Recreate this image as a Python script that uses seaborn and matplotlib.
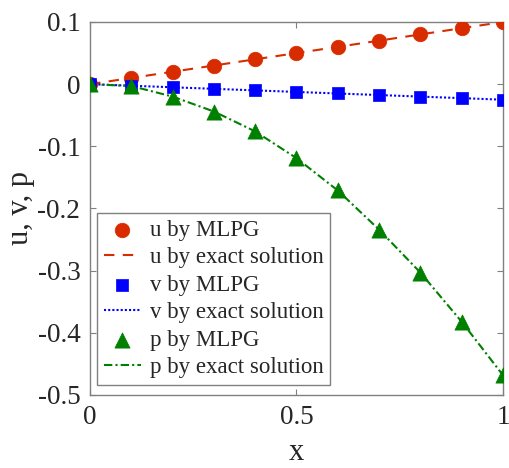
import matplotlib
matplotlib.use("Agg")
import matplotlib.pyplot as plt
import seaborn as sns
import pandas as pd

x_vals = [0.0, 0.1, 0.2, 0.3, 0.4, 0.5, 0.6, 0.7, 0.8, 0.9, 1.0]
u_vals = [0.0, 0.01, 0.02, 0.03, 0.04, 0.05, 0.06, 0.07, 0.08, 0.09, 0.10]
v_vals = [0.0, -0.0025, -0.005, -0.0075, -0.010, -0.0125, -0.015, -0.0175, -0.020, -0.0225, -0.025]
p_vals = [0.0, -0.003, -0.020, -0.044, -0.076, -0.119, -0.171, -0.234, -0.303, -0.382, -0.468]

xticks = [0, 0.5, 1]
xtick_labels = ["0", "0.5", "1"]
yticks = [0.1, 0, -0.1, -0.2, -0.3, -0.4, -0.5]
ytick_labels = ["0.1", "0", "-0.1", "-0.2", "-0.3", "-0.4", "-0.5"]

df = pd.DataFrame({"x": x_vals, "u": u_vals, "v": v_vals, "p": p_vals})

sns.set_theme(style="ticks")
plt.rcParams["font.family"] = ["Liberation Serif", "DejaVu Serif"]

fig = plt.figure(figsize=(5.09, 4.68), dpi=100)
ax = fig.add_axes([0.177, 0.156, 0.811, 0.797])

red = "#D92B00"
blue = "#0000FF"
green = "#008000"

sns.scatterplot(data=df, x="x", y="u", ax=ax, marker="o", s=110, color=red,
                edgecolor=red, linewidth=0.5, label="u by MLPG", zorder=3)
sns.lineplot(data=df, x="x", y="u", ax=ax, color=red, linestyle=(0, (5, 4)),
             linewidth=1.5, label="u by exact solution", zorder=2)
sns.scatterplot(data=df, x="x", y="v", ax=ax, marker="s", s=70, color=blue,
                edgecolor=blue, linewidth=0.5, label="v by MLPG", zorder=3)
sns.lineplot(data=df, x="x", y="v", ax=ax, color=blue, linestyle=(0, (1, 1)),
             linewidth=1.5, label="v by exact solution", zorder=2)
sns.scatterplot(data=df, x="x", y="p", ax=ax, marker="^", s=120, color=green,
                edgecolor=green, linewidth=0.5, label="p by MLPG", zorder=3)
sns.lineplot(data=df, x="x", y="p", ax=ax, color=green, linestyle=(0, (4, 1.5, 1, 1.5)),
             linewidth=1.5, label="p by exact solution", zorder=2)

ax.set_xlim(0, 1)
ax.set_ylim(-0.5, 0.1)
ax.set_xticks(xticks)
ax.set_xticklabels(xtick_labels)
ax.set_yticks(yticks)
ax.set_yticklabels(ytick_labels)
ax.tick_params(direction="in", length=4, width=0.8, colors="#808080",
               labelcolor="#262626", labelsize=19.5, top=True, right=True, pad=7)
for s in ax.spines.values():
    s.set_color("#808080")
    s.set_linewidth(1.0)
    s.set_visible(True)

ax.set_xlabel("x", fontsize=22, color="#262626", labelpad=6)
ax.set_ylabel("u, v, p", fontsize=22, color="#262626", labelpad=2)

leg = ax.legend(loc="lower left", bbox_to_anchor=(0.017, 0.027), fontsize=16.5,
                frameon=True, fancybox=False, borderaxespad=0, handlelength=1.6,
                handletextpad=0.4, labelspacing=0.28, borderpad=0.3)
leg.get_frame().set_edgecolor("#808080")
leg.get_frame().set_linewidth(1.0)
leg.get_frame().set_alpha(1.0)
for t in leg.get_texts():
    t.set_color("#262626")

fig.savefig("out.png", dpi=100)
